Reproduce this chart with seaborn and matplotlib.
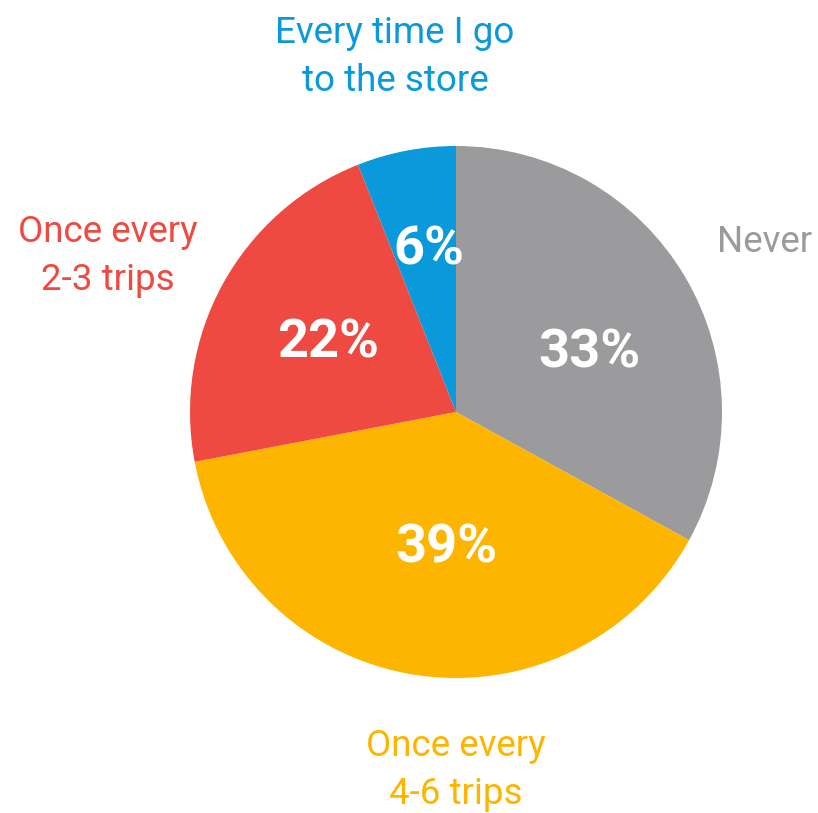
import matplotlib
matplotlib.use("Agg")
import matplotlib.pyplot as plt
import seaborn as sns

# Survey answers, clockwise from the top
categories = ["Never", "Once every\n4-6 trips", "Once every\n2-3 trips", "Every time I go\nto the store"]
shares = [33, 39, 22, 6]
colors = ["#9B9B9D", "#FDB500", "#EF4A41", "#0A9ADB"]

sns.set_theme(style="white")
plt.rcParams["font.family"] = ["Roboto", "DejaVu Sans"]

W, H = 818, 813
fig = plt.figure(figsize=(W / 100, H / 100), dpi=100)
ax = fig.add_axes([0, 0, 1, 1])

cx, cy, r = 456, H - 412, 266
wedges, _ = ax.pie(shares, colors=sns.color_palette(colors), startangle=90,
                   counterclock=False, center=(cx, cy), radius=r,
                   wedgeprops=dict(linewidth=0))

ax.set_xlim(0, W)
ax.set_ylim(0, H)
ax.set_aspect("equal")
ax.axis("off")

# percentage labels inside the wedges
pct_pos = [(589, 353), (446, 548), (328, 343), (429, 250)]
for v, (x, y) in zip(shares, pct_pos):
    ax.text(x, H - y, f"{v}%", color="white", fontsize=39, fontweight="bold",
            ha="center", va="center")

# category labels around the pie
cat_pos = [(765, 242), (456, 770), (108, 256), (395, 57)]
for name, col, (x, y) in zip(categories, colors, cat_pos):
    ax.text(x, H - y, name, color=col, fontsize=26.5, ha="center", va="center",
            linespacing=1.42)

fig.savefig("out.png", dpi=100)
